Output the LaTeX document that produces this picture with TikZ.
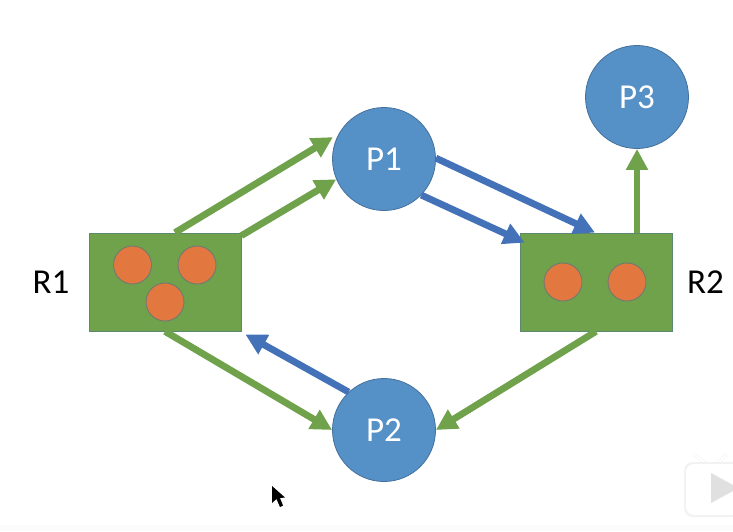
\documentclass[tikz,border=0pt]{standalone}
\usepackage{fontspec}
\setmainfont{Carlito}
\usetikzlibrary{arrows.meta,calc}
\definecolor{procblue}{HTML}{5590C6}
\definecolor{procedge}{HTML}{44719C}
\definecolor{resgreen}{HTML}{70A24C}
\definecolor{resedge}{HTML}{5B8A70}
\definecolor{tokenfill}{HTML}{E27840}
\definecolor{tokenedge}{HTML}{6F7A70}
\definecolor{reqblue}{HTML}{4472B8}
\tikzset{
  proc/.style={circle,draw=procedge,line width=0.8pt,fill=procblue,minimum size=103pt,inner sep=0pt,text=white,font=\fontsize{35}{35}\selectfont},
  res/.style={rectangle,draw=resedge,line width=0.8pt,fill=resgreen,minimum width=152pt,minimum height=98pt,inner sep=0pt},
  token/.style={circle,draw=tokenedge,line width=0.9pt,fill=tokenfill,minimum size=38pt,inner sep=0pt},
  lab/.style={text=black,font=\fontsize{35}{35}\selectfont,inner sep=0pt},
  grant/.style={draw=resgreen,line width=6.8pt,-{Triangle[length=21pt,width=21pt]}},
  request/.style={draw=reqblue,line width=6.8pt,-{Triangle[length=21pt,width=21pt]}},
}
\begin{document}
\begin{tikzpicture}[x=1pt,y=-1pt]
\useasboundingbox (0,0) rectangle (733,531);
\fill[white] (0,0) rectangle (733,531);
\fill[black!1] (0,525) rectangle (733,531);

% Resources and processes
\node[res] (R1) at (165,282) {};
\node[res] (R2) at (596,282) {};
\node[proc] (P1) at (384,159) {P1};
\node[proc] (P2) at (384,430) {P2};
\node[proc] (P3) at (637,97) {P3};

% Assignment and request edges
\draw[grant] ([xshift=10pt]R1.north) -- ($(P1.155)+(-4,0)$);
\draw[grant] ($(R1.north east)+(0,3)$) -- (P1.203);
\draw[request] (P1.1) -- ([xshift=-1pt]R2.north);
\draw[request] (P1.-44) -- ($(R2.north west)+(5,10)$);
\draw[grant] ([xshift=41pt]R2.north) -- (P3.south);
\draw[grant] (R1.south) -- (P2.180);
\draw[grant] (R2.south) -- (P2.0);
\draw[request] (P2.133) -- ($(R1.south east)+(4,3)$);

% Resource units
\node[token] (a1) at (132.5,265) {};
\node[token] (a2) at (197,265) {};
\node[token] (a3) at (165,302) {};
\node[token] (b1) at (563,282) {};
\node[token] (b2) at (627,282) {};

\node[lab] (L1) at (51,282) {R1};
\node[lab] (L2) at (705.5,282) {R2};

% Pointer
\fill[black] (272,486) -- (272,503) -- (276.5,499) -- (280,507) -- (283,505.5) -- (280,498) -- (285,497.5) -- cycle;

% Player badge
\draw[black!4,line width=3.5pt,line cap=round] (705,463) -- (695,455);
\draw[black!4,line width=3.5pt,line cap=round] (718,463) -- (726,455);
\draw[white,line width=2pt,line cap=round] (705,463) -- (695,455);
\draw[white,line width=2pt,line cap=round] (718,463) -- (726,455);
\fill[black!5,rounded corners=9pt] (684,462) rectangle (740,517);
\fill[white,rounded corners=8pt] (686,464) rectangle (740,515);
\fill[black!12] (711,473) -- (711,503) -- (733,491) -- (733,485) -- cycle;
\end{tikzpicture}
\end{document}
